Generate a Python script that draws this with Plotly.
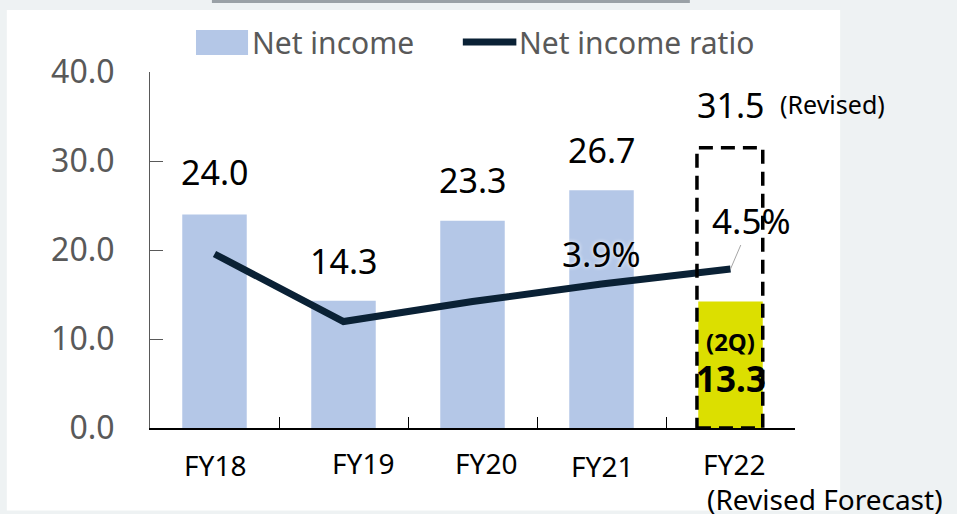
import plotly.graph_objects as go

# data
categories = ["FY18", "FY19", "FY20", "FY21", "FY22"]
net_income = [24.0, 14.3, 23.3, 26.7, 14.2]      # FY22 bar as drawn (2Q actual)
fy22_2q_label = "13.3"
forecast_fy22 = 31.5                              # revised full-year forecast
net_income_ratio = [5.1, 2.4, 3.2, 3.9, 4.5]     # %
y_ticks = [0, 10, 20, 30, 40]
y_tick_text = ["0.0", "10.0", "20.0", "30.0", "40.0"]

BLUE = "#b4c7e7"
YELLOW = "#dcdf00"
NAVY = "#0a2135"
GRAY_TXT = "#595959"
FONT = "Noto Sans"

bar_colors = [BLUE] * 4 + [YELLOW]

fig = go.Figure()

fig.add_trace(go.Bar(
    x=categories, y=net_income, name="Net income",
    marker=dict(color=bar_colors, line=dict(width=0)),
    width=0.5, showlegend=False, hoverinfo="skip",
))

fig.add_trace(go.Scatter(
    x=categories, y=net_income_ratio, name="Net income ratio",
    mode="lines", yaxis="y2",
    line=dict(color=NAVY, width=7),
    showlegend=False, hoverinfo="skip",
))

# outer panel
shapes = [
    dict(type="rect", xref="paper", yref="paper", x0=-0.222, x1=1.07, y0=-0.232, y1=1.174,
         fillcolor="white", line=dict(width=0), layer="below"),
    dict(type="rect", xref="paper", yref="paper", x0=0.096, x1=0.837, y0=1.194, y1=1.205,
         fillcolor="#9aa1a6", line=dict(width=0), layer="below"),
    # dashed box for the revised forecast
    dict(type="rect", xref="x", yref="y", x0=3.74, x1=4.25, y0=0, y1=forecast_fy22,
         line=dict(color="black", width=3.5, dash="14px,8px"), fillcolor="rgba(0,0,0,0)"),
    # manual legend
    dict(type="rect", xref="paper", yref="paper", x0=0.0713, x1=0.152, y0=1.048, y1=1.118,
         fillcolor=BLUE, line=dict(width=0)),
    dict(type="line", xref="paper", yref="paper", x0=0.485, x1=0.568, y0=1.084, y1=1.084,
         line=dict(color=NAVY, width=7)),
]

annotations = []
# bar value labels
label_shift = [42, 40, 41, 40]
for c, v, s in zip(categories[:4], net_income[:4], label_shift):
    annotations.append(dict(x=c, y=v, yref="y", text=f"{v:.1f}", showarrow=False,
                            yshift=s, font=dict(size=34, color="black", family=FONT)))
annotations.append(dict(x=categories[4], y=forecast_fy22, text=f"{forecast_fy22:.1f}",
                        showarrow=False, yshift=43, font=dict(size=34, color="black", family=FONT)))
annotations.append(dict(x=categories[4], y=forecast_fy22, text="(Revised)", showarrow=False,
                        xshift=102, yshift=44, font=dict(size=25, color="black", family=FONT)))
annotations.append(dict(x=categories[4], y=net_income[4], text="(2Q)", showarrow=False,
                        yshift=-40, font=dict(size=24, color="black", family=FONT, weight="bold")))
annotations.append(dict(x=categories[4], y=net_income[4], text=fy22_2q_label,
                        showarrow=False, yshift=-77,
                        font=dict(size=35, color="black", family=FONT, weight="bold")))

# ratio labels
annotations.append(dict(x=categories[3], y=net_income_ratio[3], yref="y2",
                        text=f"{net_income_ratio[3]:.1f}%", showarrow=False, yshift=31,
                        font=dict(size=35, color="black", family=FONT, shadow="0px 0px 4px white")))
annotations.append(dict(x=categories[4], y=net_income_ratio[4], yref="y2",
                        text=f"{net_income_ratio[4]:.1f}%", showarrow=True, arrowhead=0,
                        arrowwidth=1, arrowcolor="#a6a6a6", ax=21, ay=-49,
                        font=dict(size=35, color="black", family=FONT)))

# x labels
x_shift = [0, 19, 13, 0, 3]
y_shift = [-37, -35, -35, -38, -36]
for c, sx, sy in zip(categories, x_shift, y_shift):
    annotations.append(dict(x=c, y=0, yref="y", text=c, showarrow=False, xshift=sx,
                            yshift=sy, font=dict(size=28, color="black", family=FONT)))
annotations.append(dict(x=categories[4], y=0, yref="y", text="(Revised Forecast)",
                        showarrow=False, xshift=94, yshift=-71,
                        font=dict(size=28, color="black", family=FONT)))

# legend text
annotations.append(dict(xref="paper", yref="paper", x=0.155, y=1.084, text="Net income",
                        xanchor="left", yanchor="middle", showarrow=False,
                        font=dict(size=30, color=GRAY_TXT, family=FONT)))
annotations.append(dict(xref="paper", yref="paper", x=0.569, y=1.084, text="Net income ratio",
                        xanchor="left", yanchor="middle", showarrow=False,
                        font=dict(size=30, color=GRAY_TXT, family=FONT)))

fig.update_layout(
    width=957, height=514,
    margin=dict(l=150, r=162, t=72, b=86),
    paper_bgcolor="#eef2f3",
    plot_bgcolor="white",
    bargap=0.5,
    xaxis=dict(
        type="category", range=[-0.5, 4.5], showgrid=False,
        showline=True, linecolor="black", linewidth=1.5,
        ticks="inside", tickson="boundaries", ticklen=11, tickcolor="black",
        showticklabels=False, zeroline=False,
    ),
    yaxis=dict(
        range=[0, 40], tickvals=y_ticks, ticktext=y_tick_text, showgrid=False,
        showline=True, linecolor="#595959", linewidth=1,
        ticks="inside", ticklen=13, tickcolor="#595959",
        ticklabelstandoff=28,
        tickfont=dict(size=32, color=GRAY_TXT, family=FONT), zeroline=False,
    ),
    yaxis2=dict(
        overlaying="y", side="right", range=[-1.86, 12.38], visible=False,
    ),
    shapes=shapes,
    annotations=annotations,
)

fig.write_html("out.html", config={"displayModeBar": False},
               post_script="document.body.style.margin='0';")
